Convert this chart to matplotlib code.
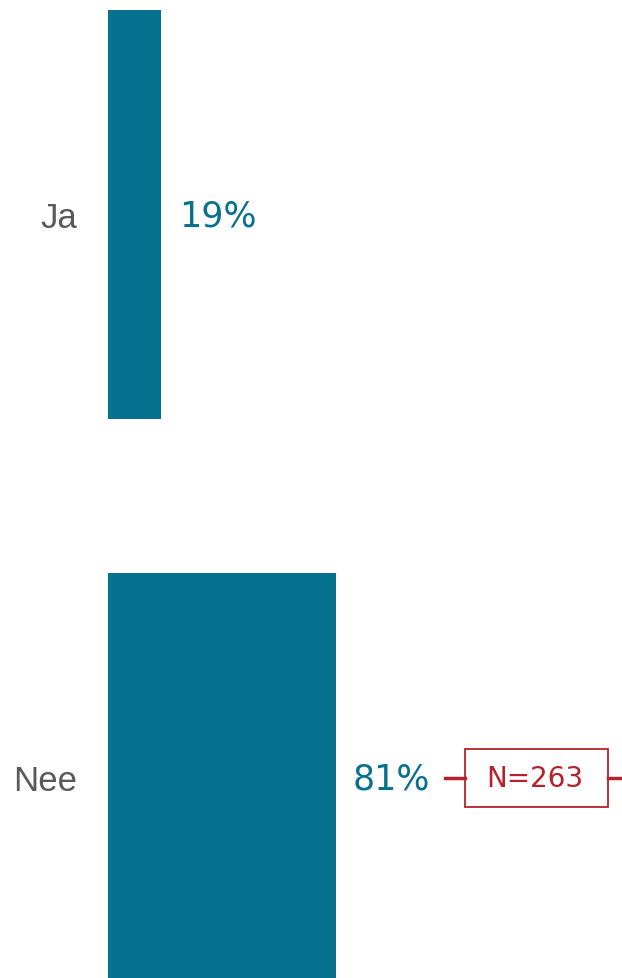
import matplotlib
matplotlib.use("Agg")
import matplotlib.pyplot as plt
from matplotlib.patches import Rectangle
from matplotlib.lines import Line2D

categories = ["Ja", "Nee"]
values = [19, 81]
sample_label = "N=263"

BAR_COLOR = "#06728F"
LABEL_GRAY = "#595959"
RED = "#B5222C"

W, H = 622, 979
fig = plt.figure(figsize=(W / 100, H / 100), dpi=100)
fig.patch.set_facecolor("white")

left = 108 / W
ax = fig.add_axes([left, 0, 1 - left, 1])
ax.set_facecolor("white")

px_per_unit = 2.81
ax.set_xlim(0, (W - 108) / px_per_unit)
ypos = list(range(len(categories)))
step = 563.0
ax.set_ylim(1 + (979 - 778) / step, -215.5 / step)

ax.barh(ypos, values, height=409 / step, color=BAR_COLOR, edgecolor="none")

for y, v in zip(ypos, values):
    ax.annotate(f"{v}%", xy=(v, y), xytext=(12.5, -1), textcoords="offset points",
                ha="left", va="center", color=BAR_COLOR, fontsize=25,
                family="DejaVu Sans")

ax.set_yticks(ypos)
ax.set_yticklabels(categories, fontsize=25, color=LABEL_GRAY, family="Liberation Sans")
ax.tick_params(axis="y", length=0, pad=22)
ax.set_xticks([])
for s in ax.spines.values():
    s.set_visible(False)

# sample size badge with connector line
fy = 1 - 779 / H
fig.add_artist(Line2D([445 / W, 465 / W], [fy, fy], transform=fig.transFigure,
                      color=RED, lw=2.5))
fig.add_artist(Line2D([608 / W, 1.0], [fy, fy], transform=fig.transFigure,
                      color=RED, lw=2.5))
fig.add_artist(Rectangle((465 / W, 1 - 808 / H), (608 - 465) / W, (808 - 750) / H,
                         transform=fig.transFigure, facecolor="white",
                         edgecolor=RED, lw=1.3))
fig.text(535 / W, 1 - 779 / H, sample_label, ha="center", va="center",
         color=RED, fontsize=20, family="DejaVu Sans")

fig.savefig("out.png", dpi=100, facecolor="white")
